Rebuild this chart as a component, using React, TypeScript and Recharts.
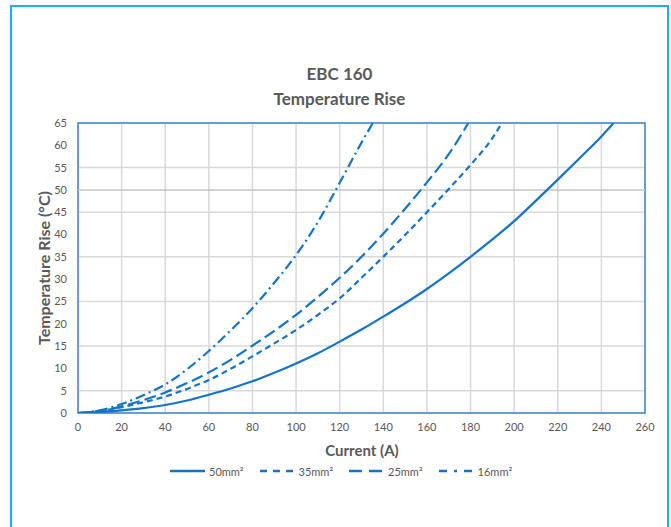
import React from 'react';
import { LineChart, Line, XAxis, YAxis, CartesianGrid, ReferenceArea, ReferenceLine } from 'recharts';

// Temperature rise (°C), per cable cross-section
const currents50 = [0, 10, 20, 30, 40, 50, 60, 70, 80, 90, 100, 110, 120, 130, 140, 150, 160, 170, 180, 190, 200, 210, 220, 230, 240, 245.6];
const rise50 = [0, 0.2, 0.6, 1.1, 1.8, 2.8, 4.1, 5.5, 7.1, 9.0, 11.1, 13.4, 16.0, 18.7, 21.6, 24.6, 27.8, 31.3, 35.0, 38.9, 43.0, 47.6, 52.3, 57.1, 62.0, 65];

const currents35 = [0, 10, 20, 30, 40, 50, 60, 70, 80, 90, 100, 110, 120, 130, 140, 150, 160, 170, 180, 190, 194.4];
const rise35 = [0, 0.4, 1.3, 2.4, 3.7, 5.4, 7.4, 9.9, 12.7, 15.6, 18.6, 22.0, 25.7, 30.3, 35.0, 39.9, 45.0, 50.2, 55.6, 61.6, 65];

const currents25 = [0, 10, 20, 30, 40, 50, 60, 70, 80, 90, 100, 110, 120, 130, 140, 150, 160, 170, 179];
const rise25 = [0, 0.5, 1.5, 2.9, 4.6, 6.7, 9.1, 11.9, 15.1, 18.4, 22.0, 26.0, 30.3, 35.0, 40.2, 45.8, 51.7, 58.0, 65];

const currents16 = [0, 10, 20, 30, 40, 50, 60, 70, 80, 90, 100, 110, 120, 130, 135.2];
const rise16 = [0, 0.6, 2.0, 4.0, 6.4, 9.8, 13.9, 18.5, 23.5, 29.2, 35.4, 42.8, 51.6, 60.6, 65];

const xTicks = [0, 20, 40, 60, 80, 100, 120, 140, 160, 180, 200, 220, 240, 260];
const yTicks = [0, 5, 10, 15, 20, 25, 30, 35, 40, 45, 50, 55, 60, 65];

const toPoints = (xs: number[], ys: number[]) => xs.map((x, i) => ({ current: x, rise: ys[i] }));

const BLUE = '#1574c6';
const FONT = 'Lato, "Open Sans", sans-serif';

const series = [
  { name: '50mm²', data: toPoints(currents50, rise50), dash: undefined },
  { name: '35mm²', data: toPoints(currents35, rise35), dash: '6 4' },
  { name: '25mm²', data: toPoints(currents25, rise25), dash: '12 5' },
  { name: '16mm²', data: toPoints(currents16, rise16), dash: '10 4 2 4' },
];

const legendDash: Record<string, string | undefined> = {
  '50mm²': undefined,
  '35mm²': '7 6',
  '25mm²': '13 7',
  '16mm²': '8 7 3 7',
};

const App: React.FC = () => {
  return (
    <div style={{ position: 'absolute', left: 0, top: 0, width: 671, height: 527, overflow: 'hidden', background: '#fff', fontFamily: FONT }}>
      {/* outer frame */}
      <div style={{ position: 'absolute', left: 10, top: 5, width: 655, height: 540, border: '2px solid #17b2ee' }} />

      {/* title */}
      <div style={{ position: 'absolute', left: 10, width: 659, top: 61, textAlign: 'center', color: '#595959', fontWeight: 700, fontSize: 17, lineHeight: '25px' }}>
        <div>EBC 160</div>
        <div>Temperature Rise</div>
      </div>

      <div style={{ position: 'absolute', left: 0, top: 0 }}>
        <LineChart width={671} height={527} margin={{ top: 123, right: 26, bottom: 84, left: 38 }}>
          <CartesianGrid stroke="#d9d9d9" strokeWidth={1.5} />
          <ReferenceLine y={50} stroke="#c4c4c4" strokeWidth={1.5} />
          <XAxis
            type="number"
            dataKey="current"
            domain={[0, 260]}
            ticks={xTicks}
            allowDataOverflow
            tickLine={false}
            axisLine={false}
            tickSize={0}
            tickMargin={10}
            height={30}
            tick={{ fill: '#595959', fontSize: 11, fontFamily: FONT }}
          />
          <YAxis
            type="number"
            dataKey="rise"
            domain={[0, 65]}
            ticks={yTicks}
            allowDataOverflow
            tickLine={false}
            axisLine={false}
            tickSize={0}
            tickMargin={11}
            width={40}
            tick={{ fill: '#595959', fontSize: 11, fontFamily: FONT }}
          />
          <ReferenceArea x1={0} x2={260} y1={0} y2={65} fill="none" stroke="#3d86d2" strokeWidth={1.5} />
          {series.map((s) => (
            <Line
              key={s.name}
              data={s.data}
              dataKey="rise"
              name={s.name}
              type="monotone"
              stroke={BLUE}
              strokeWidth={2.2}
              strokeDasharray={s.dash}
              dot={false}
              activeDot={false}
              isAnimationActive={false}
            />
          ))}
        </LineChart>
      </div>

      {/* axis titles */}
      <div style={{ position: 'absolute', left: 43, top: 268, transform: 'translate(-50%, -50%) rotate(-90deg)', whiteSpace: 'nowrap', color: '#595959', fontWeight: 700, fontSize: 16 }}>
        Temperature Rise (°C)
      </div>
      <div style={{ position: 'absolute', left: 362, top: 450, transform: 'translate(-50%, -50%)', whiteSpace: 'nowrap', color: '#595959', fontWeight: 700, fontSize: 15 }}>
        Current (A)
      </div>

      {/* legend */}
      <div style={{ position: 'absolute', left: 170, top: 463, display: 'flex', alignItems: 'center', color: '#595959', fontSize: 11 }}>
        {series.map((s) => (
          <div key={s.name} style={{ display: 'flex', alignItems: 'center', marginRight: 16 }}>
            <svg width={35} height={16}>
              <line x1={0} y1={8} x2={35} y2={8} stroke={BLUE} strokeWidth={2.5} strokeDasharray={legendDash[s.name]} />
            </svg>
            <span style={{ marginLeft: 4 }}>{s.name}</span>
          </div>
        ))}
      </div>
    </div>
  );
};

export default App;
